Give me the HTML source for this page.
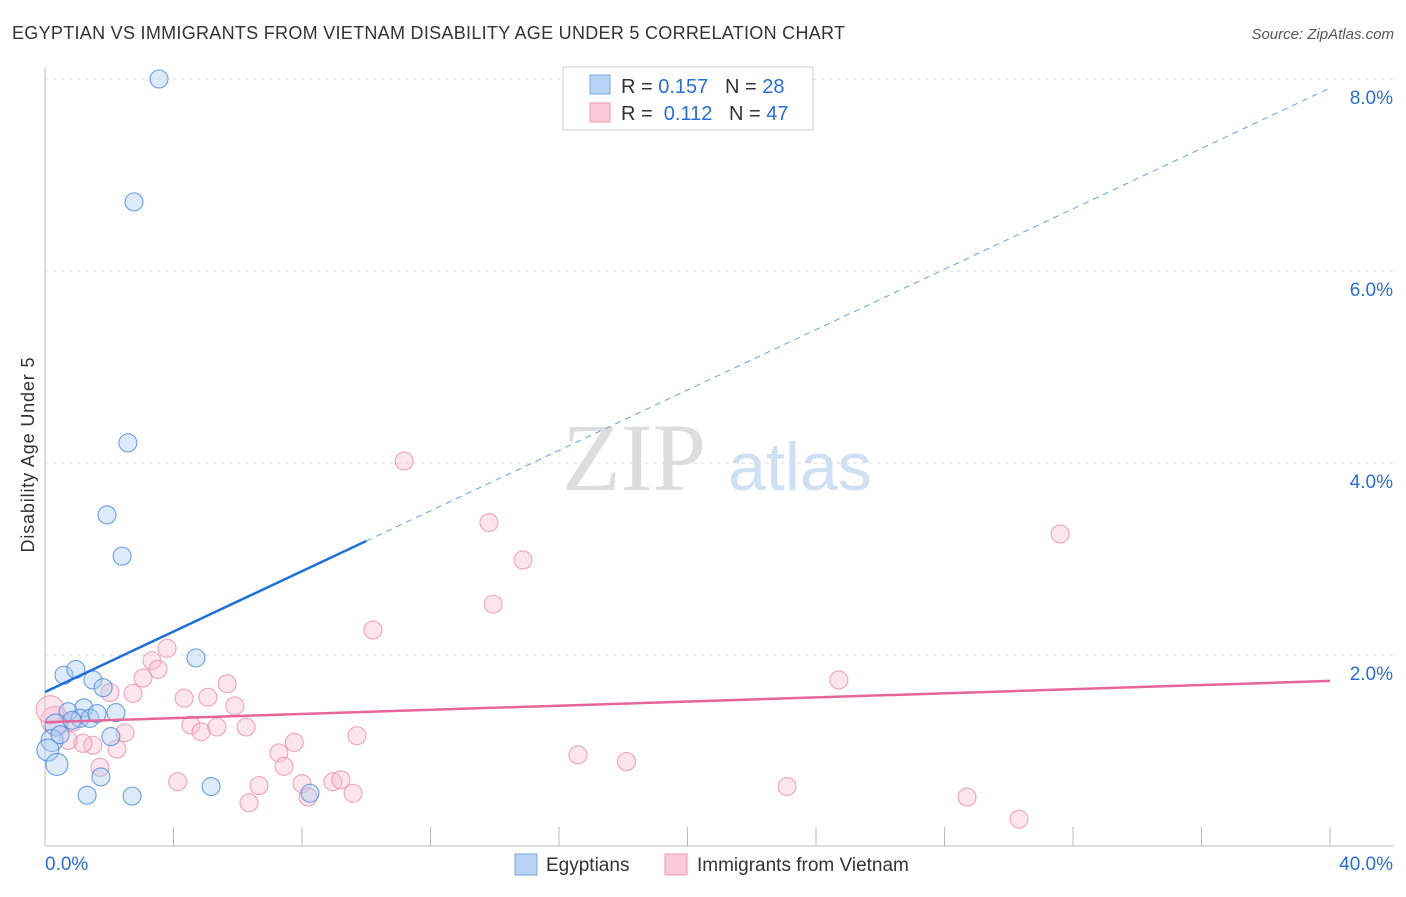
<!DOCTYPE html>
<html><head><meta charset="utf-8"><style>
body{margin:0;background:#fff;font-family:"Liberation Sans",sans-serif}
</style></head><body>
<svg id="c" width="1406" height="892" xmlns="http://www.w3.org/2000/svg">
<text x="12" y="39" font-size="18" fill="#333" textLength="833">EGYPTIAN VS IMMIGRANTS FROM VIETNAM DISABILITY AGE UNDER 5 CORRELATION CHART</text>
<text x="1394" y="39" font-size="15" fill="#555" font-style="italic" text-anchor="end">Source: ZipAtlas.com</text>
<text transform="translate(34,455) rotate(-90)" font-size="18" fill="#333" text-anchor="middle" textLength="195">Disability Age Under 5</text>
<text x="634" y="490" font-size="96" fill="#ddd" font-family="Liberation Serif" text-anchor="middle">ZIP</text>
<text x="800" y="490" font-size="68" fill="#cfe0f5" text-anchor="middle">atlas</text>
<g id="grid"></g><g id="marks"></g>
<g>
<rect x="563" y="67" width="250" height="63" fill="#fff" stroke="#ccc"/>
<rect x="590" y="75" width="20" height="19" fill="#b8d3f5" stroke="#7aa8e0"/>
<rect x="590" y="103" width="20" height="19" fill="#fcc9d8" stroke="#ec98b2"/>
<text x="621" y="93" font-size="20" fill="#333">R = <tspan fill="#2a6fd0">0.157</tspan>&#160;&#160;&#160;N = <tspan fill="#2a6fd0">28</tspan></text>
<text x="621" y="120" font-size="20" fill="#333">R = &#160;<tspan fill="#2a6fd0">0.112</tspan>&#160;&#160;&#160;N = <tspan fill="#2a6fd0">47</tspan></text>
</g>
<g>
<rect x="515" y="854" width="22" height="21" fill="#b8d3f5" stroke="#7aa8e0"/>
<text x="546" y="871" font-size="19" fill="#333">Egyptians</text>
<rect x="665" y="854" width="22" height="21" fill="#fcc9d8" stroke="#ec98b2"/>
<text x="697" y="871" font-size="19" fill="#333">Immigrants from Vietnam</text>
</g>
</svg>
<script>
const yTicks=[2,4,6,8];
const yTickLabels=["2.0%","4.0%","6.0%","8.0%"];
const xTickLabels=["0.0%","40.0%"];
const blueX=[3.55,2.77,2.58,1.93,2.40,4.70,0.59,0.96,1.49,1.81,1.21,0.72,1.09,1.40,1.62,2.21,0.34,2.05,0.22,0.09,0.37,1.74,1.31,2.71,5.17,8.25,0.47,0.84];
const blueY=[8.0,6.72,4.21,3.46,3.03,1.97,1.79,1.85,1.74,1.66,1.45,1.41,1.34,1.34,1.39,1.40,1.27,1.15,1.11,1.01,0.86,0.73,0.54,0.53,0.63,0.56,1.17,1.32];
const pinkX=[11.18,13.82,14.88,13.95,10.21,3.80,3.33,3.52,3.05,2.02,2.74,4.33,5.07,5.67,5.91,4.54,4.86,5.35,6.26,2.49,2.24,1.49,1.18,0.72,0.31,0.16,0.87,1.71,4.13,6.35,6.66,7.28,7.44,7.76,8.00,8.19,8.96,9.21,9.59,9.71,16.59,18.1,23.1,24.71,28.7,30.32,31.6];
const pinkY=[4.02,3.38,2.99,2.53,2.26,2.07,1.94,1.85,1.76,1.61,1.60,1.55,1.56,1.70,1.47,1.27,1.20,1.25,1.25,1.19,1.02,1.06,1.08,1.11,1.32,1.43,1.30,0.83,0.68,0.46,0.64,0.98,0.84,1.09,0.66,0.52,0.68,0.70,0.56,1.16,0.96,0.89,0.63,1.74,0.52,0.29,3.26];
const blueTrend=[1.615,7.906];
const pinkTrend=[1.30,1.73];
const sx=v=>45+v*32.125, sy=v=>847-v*96;
const NS="http://www.w3.org/2000/svg";
const grid=document.getElementById('grid'), marks=document.getElementById('marks');
function mk(p,tag,a){const e=document.createElementNS(NS,tag);for(const k in a)e.setAttribute(k,a[k]);p.appendChild(e);return e;}
yTicks.forEach((t,i)=>{
 const l=mk(grid,'line',{x1:45,x2:1394,y1:sy(t),y2:sy(t),stroke:'#ddd','stroke-dasharray':'4,4'});
 
 
 const tx=mk(grid,'text',{x:1393,y:sy(t)+25,'font-size':19,fill:'#2a6fd0','text-anchor':'end'});tx.textContent=yTickLabels[i];
 
 
});
const ax=mk(grid,'line',{x1:45,x2:1394,y1:846,y2:846,stroke:'#bbb'});


const ay=mk(grid,'line',{x1:45,x2:45,y1:68,y2:846,stroke:'#bbb'});


for(let i=1;i<=10;i++){const t=mk(grid,'line',{x1:sx(i*4),x2:sx(i*4),y1:827,y2:846,stroke:'#bbb'});
 
 }
[[0,'start'],[40,'end']].forEach((d,i)=>{const t=mk(grid,'text',{x:i?1393:45,y:870,'font-size':19,fill:'#2a6fd0','text-anchor':d[1]});t.textContent=xTickLabels[i];
 
 });
function dots(X,Y,fill,stroke,name){X.forEach((x,i)=>{const r=(x<0.4&&name=='pink-point')?14:(x<0.4?11:9);
 const c=mk(marks,'circle',{cx:sx(x),cy:sy(Y[i]),r:r,fill:fill,'fill-opacity':0.4,stroke:stroke,'stroke-opacity':0.8,'stroke-width':1.1});
 
 });}
dots(pinkX,pinkY,'#fbbfd2','#ec8fae','pink-point');
dots(blueX,blueY,'#a9cbf3','#4a88d8','blue-point');
const bx=10;
const b1=mk(marks,'line',{x1:sx(0),y1:sy(blueTrend[0]),x2:sx(bx),y2:sy(blueTrend[0]+(blueTrend[1]-blueTrend[0])*bx/40),stroke:'#1f6fd8','stroke-width':2.5});


const b2=mk(marks,'line',{x1:sx(bx),y1:sy(blueTrend[0]+(blueTrend[1]-blueTrend[0])*bx/40),x2:sx(40),y2:sy(blueTrend[1]),stroke:'#6b9fe0','stroke-width':1,'stroke-dasharray':'6,5'});


const p1=mk(marks,'line',{x1:sx(0),y1:sy(pinkTrend[0]),x2:sx(40),y2:sy(pinkTrend[1]),stroke:'#e8659a','stroke-width':2.5});


</script>
</body></html>
